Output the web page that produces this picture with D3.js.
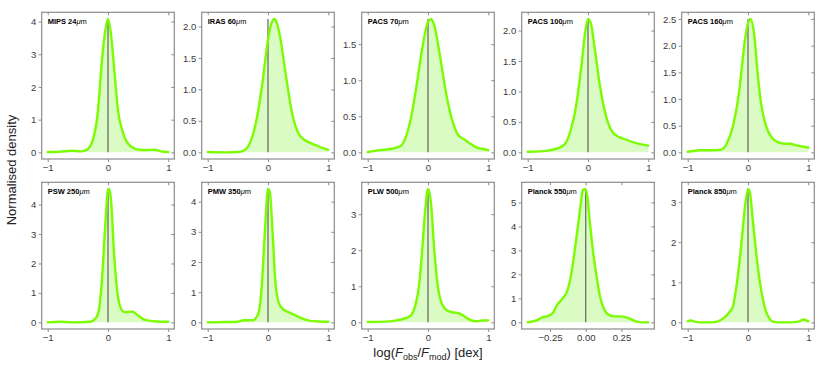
<!DOCTYPE html>
<html>
<head>
<meta charset="utf-8">
<script src="https://cdn.jsdelivr.net/npm/d3@7"></script>
<style>
  html, body { margin: 0; padding: 0; background: #fff; }
  svg { display: block; font-family: "Liberation Sans", Arial, sans-serif; }
</style>
</head>
<body>
<svg id="chart" width="830" height="369"></svg>
<script>
// ---------- data (x = log(Fobs/Fmod) [dex], y = normalised density) ----------
const bandNames = ["MIPS 24", "IRAS 60", "PACS 70", "PACS 100", "PACS 160",
                   "PSW 250", "PMW 350", "PLW 500", "Planck 550", "Planck 850"];

const mips24 = [[-1,0.01],[-0.8,0.02],[-0.6,0.05],[-0.45,0.03],[-0.35,0.08],[-0.25,0.39],[-0.165,1.3],[-0.11,2.6],[-0.055,3.6],[0,4.08],[0.044,3.7],[0.11,2.4],[0.165,1.3],[0.25,0.59],[0.38,0.18],[0.52,0.08],[0.65,0.07],[0.78,0.08],[0.88,0.03],[1,0.01]];
const iras60 = [[-1,0.005],[-0.7,0.0],[-0.5,0.005],[-0.4,0.03],[-0.3,0.15],[-0.2,0.47],[-0.1,1.05],[0,1.79],[0.05,2.03],[0.1,2.12],[0.15,2.05],[0.2,1.84],[0.3,1.2],[0.4,0.62],[0.5,0.31],[0.6,0.2],[0.7,0.15],[0.8,0.11],[0.9,0.07],[1,0.04]];
const pacs70 = [[-1,0.005],[-0.8,0.03],[-0.6,0.05],[-0.45,0.09],[-0.4,0.15],[-0.3,0.41],[-0.2,0.87],[-0.1,1.42],[0,1.81],[0.05,1.85],[0.1,1.77],[0.2,1.33],[0.3,0.82],[0.4,0.45],[0.5,0.24],[0.6,0.18],[0.7,0.12],[0.8,0.07],[0.9,0.05],[1,0.03]];
const pacs100 = [[-1,0.01],[-0.8,0.015],[-0.6,0.04],[-0.4,0.12],[-0.3,0.32],[-0.2,0.75],[-0.1,1.5],[-0.05,1.95],[0,2.19],[0.05,2.11],[0.1,1.79],[0.2,1.08],[0.3,0.59],[0.4,0.34],[0.5,0.26],[0.6,0.22],[0.8,0.15],[1,0.11]];
const pacs160 = [[-1,0.01],[-0.8,0.04],[-0.6,0.04],[-0.45,0.05],[-0.35,0.17],[-0.25,0.49],[-0.15,1.11],[-0.1,1.61],[-0.05,2.11],[0,2.42],[0.04,2.5],[0.1,2.24],[0.15,1.61],[0.2,1.05],[0.3,0.49],[0.4,0.27],[0.5,0.19],[0.6,0.16],[0.7,0.16],[0.8,0.13],[0.9,0.11],[1,0.09]];
const psw250 = [[-1,0.0],[-0.8,0.02],[-0.6,0.0],[-0.3,0.02],[-0.2,0.15],[-0.15,0.43],[-0.1,1.45],[-0.05,3.14],[0,4.5],[0.02,4.53],[0.05,4.16],[0.1,2.35],[0.15,1.11],[0.2,0.54],[0.25,0.37],[0.3,0.34],[0.4,0.37],[0.5,0.23],[0.6,0.09],[0.7,0.05],[0.8,0.03],[1,0.02]];
const pmw350 = [[-1,0.0],[-0.7,0.01],[-0.5,0.02],[-0.4,0.07],[-0.25,0.07],[-0.2,0.14],[-0.15,0.36],[-0.1,1.3],[-0.05,3.05],[0,4.42],[0.03,4.32],[0.08,2.84],[0.12,1.41],[0.18,0.64],[0.25,0.44],[0.35,0.33],[0.45,0.24],[0.55,0.14],[0.7,0.05],[0.85,0.03],[1,0.02]];
const plw500 = [[-1,0.01],[-0.7,0.02],[-0.5,0.06],[-0.3,0.17],[-0.2,0.54],[-0.15,1.0],[-0.1,1.92],[-0.05,3.03],[0,3.7],[0.05,3.31],[0.1,2.1],[0.15,1.18],[0.2,0.67],[0.3,0.35],[0.4,0.28],[0.5,0.26],[0.6,0.17],[0.7,0.07],[0.8,0.03],[0.9,0.05],[1,0.055]];
const planck550 = [[-0.406,0.0],[-0.35,0.07],[-0.3,0.22],[-0.27,0.25],[-0.23,0.39],[-0.2,0.73],[-0.16,1.01],[-0.13,1.29],[-0.1,2.05],[-0.07,3.3],[-0.04,4.68],[-0.02,5.51],[-0.005,5.56],[0.01,5.3],[0.03,4.12],[0.05,3.02],[0.08,1.77],[0.1,1.08],[0.13,0.53],[0.16,0.32],[0.2,0.25],[0.25,0.25],[0.3,0.18],[0.35,0.04],[0.4,0.0],[0.438,0.0]];
const planck850 = [[-1,0.025],[-0.95,0.05],[-0.9,0.025],[-0.8,0.0],[-0.6,0.0],[-0.5,0.025],[-0.4,0.11],[-0.3,0.27],[-0.25,0.4],[-0.2,0.81],[-0.15,1.39],[-0.1,2.13],[-0.05,2.88],[0,3.33],[0.03,3.25],[0.08,2.55],[0.15,1.55],[0.2,0.98],[0.25,0.56],[0.3,0.27],[0.35,0.11],[0.4,0.025],[0.5,0.0],[0.7,0.0],[0.85,0.025],[0.92,0.07],[1,0.025]];

const seriesList = [mips24, iras60, pacs70, pacs100, pacs160, psw250, pmw350, plw500, planck550, planck850];

const yTickSets = [
  [0,1,2,3,4], [0,0.5,1,1.5,2], [0,0.5,1,1.5], [0,0.5,1,1.5,2], [0,0.5,1,1.5,2,2.5],
  [0,1,2,3,4], [0,1,2,3,4], [0,1,2,3], [0,1,2,3,4,5], [0,1,2,3]
];
const xTicksWide = [-1, 0, 1];
const xTicksNarrow = [-0.25, 0, 0.25];

// ---------- layout ----------
const svg = d3.select("#chart");
const panelW = 132.6, panelH = 146.7;
const colLeft = [41.7, 201.7, 361.7, 521.7, 681.7];
const rowTop = [12.3, 182.3];
const frameColor = "#8c8c8c";
const textColor = "#3a3a3a";
const lineColor = "#7cfc00";
const fillColor = "#dafcc4";
const minus = s => s.replace("-", "\u2212");

seriesList.forEach((data, i) => {
  const col = i % 5, row = Math.floor(i / 5);
  const g = svg.append("g").attr("transform", `translate(${colLeft[col]},${rowTop[row]})`);

  const xExt = d3.extent(data, d => d[0]);
  const xPad = (xExt[1] - xExt[0]) * 0.05;
  const x = d3.scaleLinear().domain([xExt[0] - xPad, xExt[1] + xPad]).range([0, panelW]);
  const yMax = d3.max(data, d => d[1]);
  const y = d3.scaleLinear().domain([-0.05 * yMax, 1.05 * yMax]).range([panelH, 0]);

  const xTicks = i === 8 ? xTicksNarrow : xTicksWide;
  const xFmt = i === 8 ? d3.format(".2f") : d3.format("d");
  const yTicks = yTickSets[i];
  const yFmt = yTicks.some(v => v % 1 !== 0) ? d3.format(".1f") : d3.format("d");

  // area + line
  const area = d3.area().x(d => x(d[0])).y0(y(0)).y1(d => y(d[1])).curve(d3.curveMonotoneX);
  const line = d3.line().x(d => x(d[0])).y(d => y(d[1])).curve(d3.curveMonotoneX);
  g.append("path").datum(data).attr("d", area).attr("fill", fillColor);

  // vertical zero line
  g.append("line")
    .attr("x1", x(0)).attr("x2", x(0))
    .attr("y1", y(0)).attr("y2", y(yMax))
    .attr("stroke", "#6e6e6e").attr("stroke-width", 1.3);

  g.append("path").datum(data).attr("d", line)
    .attr("fill", "none").attr("stroke", lineColor).attr("stroke-width", 2.4)
    .attr("stroke-linejoin", "round").attr("stroke-linecap", "round");

  // axes
  const styleAxis = sel => {
    sel.select(".domain").remove();
    sel.selectAll(".tick line").attr("stroke", frameColor).attr("stroke-width", 1);
    sel.selectAll(".tick text").attr("fill", textColor).attr("font-size", 9.5)
      .attr("font-family", "'Liberation Sans', Arial, sans-serif");
  };
  g.append("g").attr("transform", `translate(0,${panelH})`)
    .call(d3.axisBottom(x).tickValues(xTicks).tickSize(3).tickPadding(2).tickFormat(v => minus(xFmt(v))))
    .call(styleAxis);
  g.append("g")
    .call(d3.axisLeft(y).tickValues(yTicks).tickSize(3).tickPadding(2.5).tickFormat(v => yFmt(v)))
    .call(styleAxis);
  g.append("g")
    .call(d3.axisTop(x).tickValues(xTicks).tickSize(-3).tickFormat(""))
    .call(styleAxis);
  g.append("g").attr("transform", `translate(${panelW},0)`)
    .call(d3.axisRight(y).tickValues(yTicks).tickSize(-3).tickFormat(""))
    .call(styleAxis);

  // frame
  g.append("rect").attr("width", panelW).attr("height", panelH)
    .attr("fill", "none").attr("stroke", frameColor).attr("stroke-width", 1.2);

  // band label
  const t = g.append("text").attr("x", 6).attr("y", 12)
    .attr("font-size", 7.5).attr("fill", "#000");
  t.append("tspan").attr("font-weight", "bold").text(bandNames[i]);
  t.append("tspan").attr("font-style", "italic").text("\u03bc");
  t.append("tspan").text("m");
});

// global axis labels
svg.append("text")
  .attr("transform", "translate(16,170) rotate(-90)")
  .attr("text-anchor", "middle").attr("font-size", 13).attr("fill", "#222")
  .text("Normalised density");

const xl = svg.append("text").attr("x", 428).attr("y", 357)
  .attr("text-anchor", "middle").attr("font-size", 13).attr("fill", "#222");
xl.append("tspan").text("log(");
xl.append("tspan").attr("font-style", "italic").text("F");
xl.append("tspan").attr("font-size", 9).attr("dy", 2.5).text("obs");
xl.append("tspan").attr("dy", -2.5).text("/");
xl.append("tspan").attr("font-style", "italic").text("F");
xl.append("tspan").attr("font-size", 9).attr("dy", 2.5).text("mod");
xl.append("tspan").attr("dy", -2.5).text(") [dex]");
</script>
</body>
</html>
